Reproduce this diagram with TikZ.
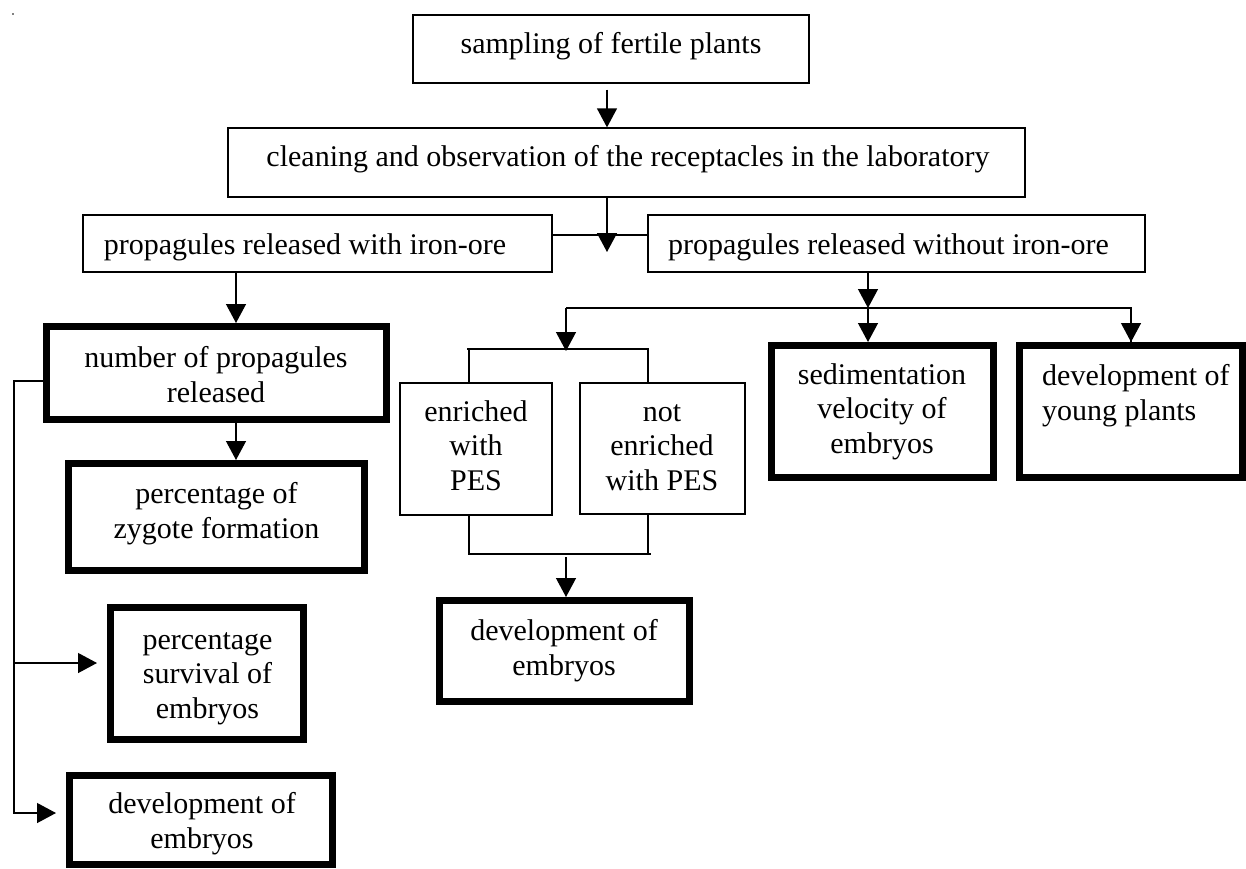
\documentclass[tikz,border=0pt]{standalone}
\usepackage{fontspec}
\setmainfont{Liberation Serif}
\usetikzlibrary{arrows.meta}
\tikzset{
  thinbox/.style={draw, line width=1.3pt, inner sep=0pt},
  thickbox/.style={draw, line width=7pt, inner sep=0pt},
  txt/.style={inner sep=0pt, align=center, anchor=base, font=\fontsize{30}{34.5}\selectfont},
  con/.style={line width=1.3pt},
  arr/.style={line width=1.3pt, -{Triangle[width=20pt,length=19pt]}},
}
\begin{document}
\begin{tikzpicture}[x=1pt,y=-1pt]
\useasboundingbox (0,0) rectangle (1246,868);
\fill (13,14) circle (0.8);
% thin boxes
\node[thinbox, minimum width=396, minimum height=68] (s1) at (611,49) {};
\node[thinbox, minimum width=797, minimum height=69] (s2) at (626.5,162.5) {};
\node[thinbox, minimum width=469, minimum height=57] (s3) at (317.5,243.5) {};
\node[thinbox, minimum width=497, minimum height=57] (s4) at (896.5,243.5) {};
\node[thinbox, minimum width=152, minimum height=132] (s5) at (476,449) {};
\node[thinbox, minimum width=165, minimum height=131] (s6) at (662.5,448.5) {};
% thick boxes
\node[thickbox, minimum width=340, minimum height=93] (t1) at (216.5,373) {};
\node[thickbox, minimum width=296, minimum height=107] (t2) at (216.5,517) {};
\node[thickbox, minimum width=193, minimum height=132] (t3) at (207,673.5) {};
\node[thickbox, minimum width=263, minimum height=89] (t4) at (201,820) {};
\node[thickbox, minimum width=250, minimum height=101] (t5) at (564.5,651) {};
\node[thickbox, minimum width=222, minimum height=132] (t6) at (882.5,411.5) {};
\node[thickbox, minimum width=223, minimum height=132] (t7) at (1131,411.5) {};
% texts (base = baseline of the last line)
\node[txt] (s1t) at (611,53) {sampling of fertile plants};
\node[txt] (s2t) at (628,166) {cleaning and observation of the receptacles in the laboratory};
\node[txt] (s3t) at (305,254) {propagules released with iron-ore};
\node[txt] (s4t) at (888.5,254) {propagules released without iron-ore};
\node[txt] (s5t) at (476,490) {enriched\\with\\PES};
\node[txt] (s6t) at (662,490) {not\\enriched\\with PES};
\node[txt] (t1t) at (216,402) {number of propagules\\released};
\node[txt] (t2t) at (216.5,538) {percentage of\\zygote formation};
\node[txt] (t3t) at (207.5,718) {percentage\\survival of\\embryos};
\node[txt] (t4t) at (202,848) {development of\\embryos};
\node[txt] (t5t) at (564,675) {development of\\embryos};
\node[txt] (t6t) at (882,453) {sedimentation\\velocity of\\embryos};
\node[txt, align=left, anchor=base west] (t7t) at (1042,420) {development of\\young plants};
% junction coordinates
\coordinate (j1) at (607,252);
\coordinate (j2) at (868,308);
\coordinate (j3) at (566,308);
\coordinate (j4) at (566,349);
\coordinate (j5) at (566,554);
\coordinate (cb1) at (14,663);
\coordinate (cb2) at (14,813);
% connectors
\draw[arr] ([shift={(-4,6)}]s1.south) -- ([xshift=-19.5]s2.north);
\draw[arr] ([xshift=-19.5]s2.south) -- (j1);
\draw[con] ([yshift=8.5]s3.east) -- ([yshift=8.5]s4.west);
\draw[arr] ([xshift=-81.5]s3.south) -- ([xshift=19.5]t1.north);
\draw[arr] ([xshift=19.5]t1.south) -- ([xshift=19.5]t2.north);
\draw[arr, shorten >=10pt] ([yshift=-8]t1.west) -| (cb2) -- (cb2 -| t4.west);
\draw[arr, shorten >=10pt] (cb1) -- (cb1 -| t3.west);
\draw[arr] ([xshift=-28.5]s4.south) -- (j2);
\draw[con] (j3) -- (j2) -| (t7.north);
\draw[arr] (j2) -- ([xshift=-14.5]t6.north);
\draw[arr] (j2 -| t7.north) -- (t7.north);
\draw[arr] (j3) -- ([yshift=-2]j4);
\draw[con] ([xshift=-7]s5.north) |- (j4) -| ([xshift=-14.5]s6.north);
\draw[con] ([xshift=-9]j4 -| s5.north) -- ([xshift=-7]j4 -| s5.north);
\draw[con] ([xshift=-7]s5.south) |- (j5) -| ([xshift=-14.5]s6.south);
\draw[con] ([xshift=-14.5]j5 -| s6.south) -- ([xshift=-11.5]j5 -| s6.south);
\draw[arr] ([yshift=-3]j5) -- ([xshift=1.5]t5.north);
\end{tikzpicture}
\end{document}
